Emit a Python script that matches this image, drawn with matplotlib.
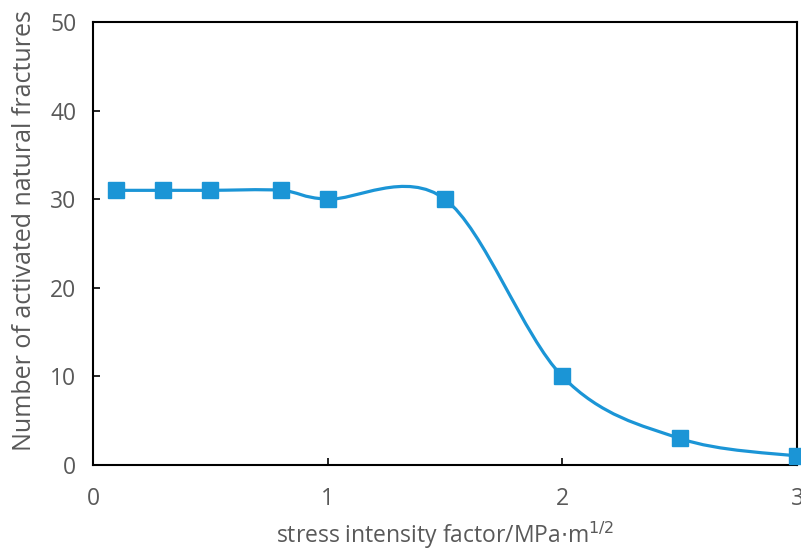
import numpy as np
import matplotlib.pyplot as plt
from matplotlib.path import Path
from matplotlib.patches import PathPatch

plt.rcParams['font.family'] = ['Open Sans', 'DejaVu Sans']

k = [0.1, 0.3, 0.5, 0.8, 1.0, 1.5, 2.0, 2.5, 3.0]
n = [31, 31, 31, 31, 30, 30, 10, 3, 1]

xticks = [0, 1, 2, 3]
yticks = [0, 10, 20, 30, 40, 50]

color = '#1b95d6'
gray = '#595959'


def smooth_path(x, y):
    # excel-like smoothed line: catmull-rom as cubic bezier segments
    p = np.column_stack([x, y]).astype(float)
    verts = [p[0]]
    codes = [Path.MOVETO]
    for i in range(len(p) - 1):
        p0 = p[i - 1] if i > 0 else p[i]
        p3 = p[i + 2] if i + 2 < len(p) else p[i + 1]
        c1 = p[i] + (p[i + 1] - p0) / 6
        c2 = p[i + 1] - (p3 - p[i]) / 6
        verts += [c1, c2, p[i + 1]]
        codes += [Path.CURVE4] * 3
    return Path(verts, codes)


fig = plt.figure(figsize=(8.01, 5.51), dpi=100)
ax = fig.add_axes([93 / 801, 1 - 465 / 551, 704 / 801, 443 / 551])

ax.add_patch(PathPatch(smooth_path(k, n), facecolor='none', edgecolor=color,
                       lw=2.3, clip_on=False, zorder=2))
ax.plot(k, n, ls='none', marker='s', ms=12, color=color, clip_on=False, zorder=3)

ax.set_xlim(0, 3)
ax.set_ylim(0, 50)
ax.set_xticks(xticks)
ax.set_yticks(yticks)
ax.tick_params(direction='in', length=5, width=1.2, colors='black', labelcolor=gray,
               labelsize=16.5)
ax.tick_params(axis='x', pad=16)
ax.tick_params(axis='y', pad=12)
for s in ax.spines.values():
    s.set_linewidth(1.5)

ax.set_xlabel('stress intensity factor/MPa$\\cdot$m$^{1/2}$', fontsize=16.5, color=gray, labelpad=6)
ax.set_ylabel('Number of activated natural fractures', fontsize=18, color=gray, labelpad=8)
ax.yaxis.set_label_coords(-0.08, 0.53)

fig.savefig('out.png', dpi=100)
